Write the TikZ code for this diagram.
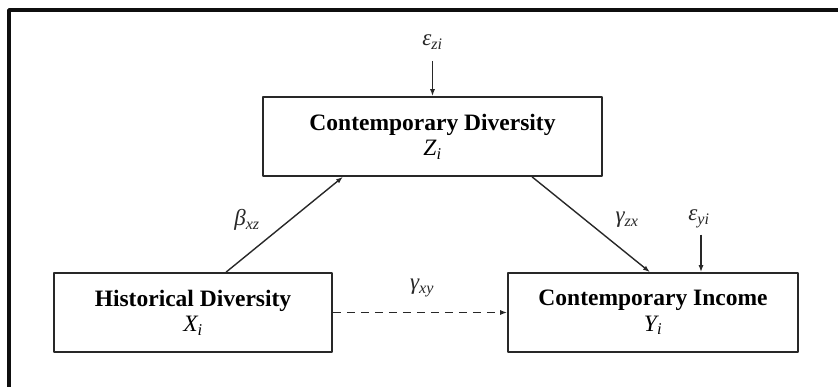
\documentclass[tikz,border=0pt]{standalone}
\usepackage{fontspec}
\setmainfont{Liberation Serif}
\usetikzlibrary{arrows.meta}

\definecolor{marco}{RGB}{15,15,15}
\definecolor{trazo}{RGB}{40,40,40}

\begin{document}
\begin{tikzpicture}[x=1pt,y=-1pt,line join=round,
        caja/.style={draw=trazo,line width=1.6pt,minimum height=79pt,
            inner sep=0pt,align=center,font=\fontsize{23.5}{25.5}\selectfont},
        etiqueta/.style={trazo,font=\fontsize{23}{26}\selectfont\itshape},
        flecha/.style={trazo,-{Latex[length=7pt,width=5pt]},line width=1.4pt}]
        \useasboundingbox (0,0) rectangle (838,387);

        % Marco exterior
        \draw[marco,line width=3.5pt] (9,420) -- (9,10) -- (838,10);

        % Variables
        \node[caja,minimum width=339pt] (contdiv) at (432.5,136.5)
            {\textbf{Contemporary Diversity}\\\textit{Z\textsubscript{i}}};
        \node[caja,minimum width=278pt] (histdiv) at (193,312.5)
            {\textbf{Historical Diversity}\\\textit{X\textsubscript{i}}};
        \node[caja,minimum width=290pt] (continc) at (653,312.5)
            {\textbf{Contemporary Income}\\\textit{Y\textsubscript{i}}};

        % Términos de error
        \node[etiqueta] (epszi) at (432.5,42) {ε\textsubscript{zi}};
        \node[etiqueta] (epsyi) at (699,219) {ε\textsubscript{yi}};

        % Coeficientes
        \node[etiqueta] (betaxz) at (247,220) {β\textsubscript{xz}};
        \node[etiqueta] (gammazx) at (627,220) {γ\textsubscript{zx}};
        \node[etiqueta] (gammaxy) at (422,288) {γ\textsubscript{xy}};

        % Flechas
        \draw[flecha] ([xshift=33pt]histdiv.north) -- ([xshift=-89.5pt]contdiv.south);
        \draw[flecha] ([xshift=99.5pt]contdiv.south) -- ([xshift=-3pt]continc.north);
        \draw[flecha,dash pattern=on 8pt off 6pt] (histdiv.east) -- (continc.west);
        \draw[flecha] ([yshift=-8pt]epszi.south) -- (contdiv.north);
        \draw[flecha] ([xshift=2pt,yshift=-3pt]epsyi.south)
            -- ([xshift=2pt]epsyi.south |- continc.north);
\end{tikzpicture}
\end{document}
